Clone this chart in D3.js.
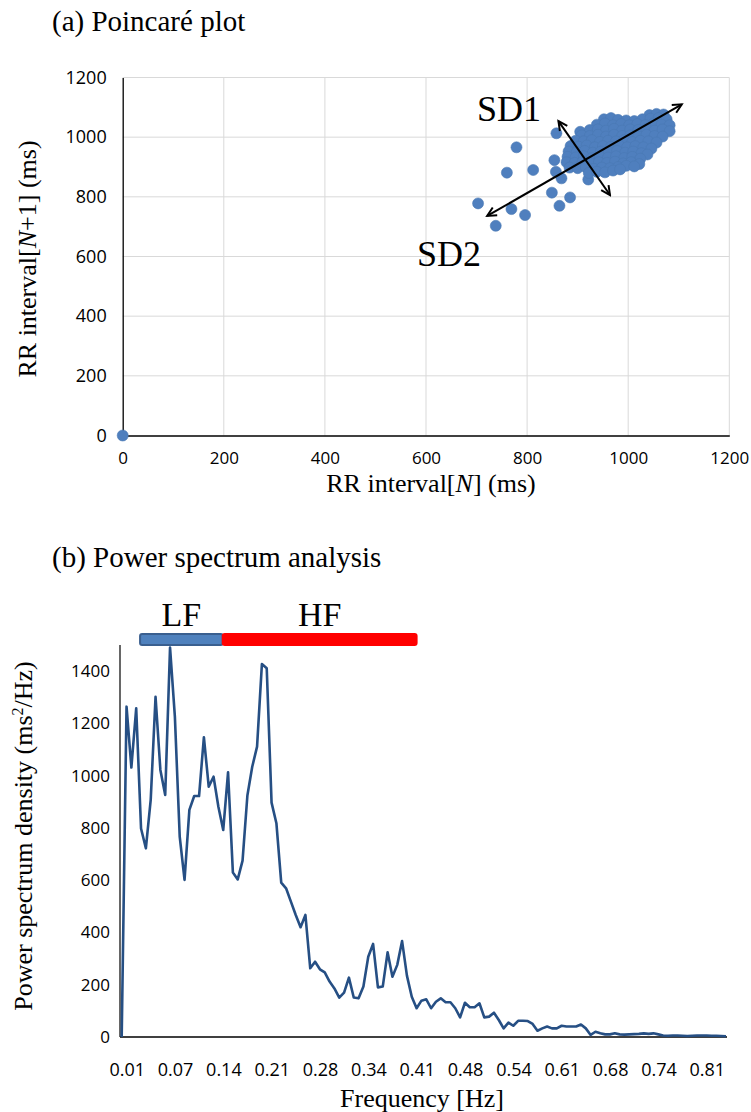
<!DOCTYPE html>
<html>
<head>
<meta charset="utf-8">
<script src="https://cdn.jsdelivr.net/npm/d3@7"></script>
<style>
  html, body { margin: 0; padding: 0; background: #fff; }
  svg { display: block; }
  .tick text { font-family: "Open Sans", sans-serif; fill: #000; }
  .ttl { font-family: "Liberation Serif", "Times New Roman", serif; fill: #000; }
</style>
</head>
<body>
<svg id="fig" width="751" height="1112"></svg>
<script>
// ---- (a) Poincaré plot data: [RR(N), RR(N+1)] in ms ----
const poincareOutliers = [
    [0, 0], [703, 778], [738, 703], [769, 759], [796, 739], [779, 966], [760, 881],
    [812, 890], [858, 1013], [849, 814], [864, 770], [885, 798], [854, 923],
    [857, 884], [868, 862], [905, 1018], [921, 858]
];
const poincareCluster = [
    [1042, 1074], [1056, 1078], [1070, 1076],
    [952, 1060], [966, 1064], [980, 1058], [996, 1056], [1012, 1054], [1028, 1060], [1044, 1062], [1060, 1064], [1076, 1060],
    [938, 1042], [954, 1046], [970, 1040], [986, 1044], [1002, 1040], [1018, 1044], [1034, 1040], [1050, 1046], [1066, 1042], [1082, 1040],
    [924, 1024], [940, 1026], [956, 1022], [972, 1028], [988, 1022], [1004, 1026], [1020, 1024], [1036, 1028], [1052, 1022], [1068, 1026], [1082, 1020],
    [908, 1006], [924, 1004], [940, 1008], [956, 1002], [972, 1008], [988, 1004], [1004, 1006], [1020, 1002], [1036, 1008], [1052, 1004], [1068, 1002],
    [896, 988], [912, 986], [928, 990], [944, 984], [960, 988], [976, 986], [992, 990], [1008, 984], [1024, 988], [1040, 986], [1056, 982],
    [886, 970], [902, 968], [918, 972], [934, 966], [950, 970], [966, 968], [982, 972], [998, 966], [1014, 970], [1030, 966], [1046, 962],
    [882, 952], [898, 950], [914, 954], [930, 948], [946, 952], [962, 950], [978, 954], [994, 948], [1010, 952], [1026, 946], [1038, 942],
    [880, 934], [896, 932], [912, 936], [928, 930], [944, 934], [960, 932], [976, 936], [992, 930], [1008, 934], [1024, 928],
    [878, 916], [894, 914], [910, 918], [926, 912], [942, 916], [958, 914], [974, 918], [990, 912], [1006, 916], [1022, 910],
    [884, 898], [900, 896], [916, 900], [932, 894], [948, 898], [964, 896], [980, 900], [996, 904], [1012, 902],
    [922, 880], [938, 884], [954, 882], [970, 888], [984, 892]
];
const rrTicks = [0, 200, 400, 600, 800, 1000, 1200];
// SD arrows and their labels, in ms
const sdArrows = [
    { name: 'SD1', from: [862, 1054], to: [964, 806], label: [701, 1054] },
    { name: 'SD2', from: [721, 736], to: [1106, 1110], label: [582, 568] }
];

// ---- (b) Power spectrum data (one value per frequency bin) ----
const psd = [
    0, 1264, 1031, 1258, 798, 722, 907, 1302, 1022, 926,
    1490, 1226, 767, 601, 869, 922, 922, 1147, 958, 996,
    881, 792, 1013, 629, 603, 675, 924, 1034, 1111, 1427,
    1411, 897, 818, 591, 569, 518, 467, 420, 467, 263,
    288, 259, 247, 212, 186, 151, 170, 227, 151, 148,
    193, 307, 356, 190, 193, 324, 231, 276, 367, 235,
    154, 110, 139, 144, 110, 135, 148, 133, 133, 110,
    75, 131, 114, 114, 129, 75, 78, 93, 65, 33,
    55, 43, 62, 62, 61, 50, 24, 33, 40, 33,
    33, 43, 40, 40, 40, 48, 33, 8, 20, 14,
    10, 10, 14, 10, 9, 10, 11, 12, 14, 12,
    14, 10, 6, 5, 6, 6, 5, 4, 5, 6,
    6, 6, 5, 5, 4, 3
];
const freqTickLabels = ['0.01', '0.07', '0.14', '0.21', '0.28', '0.34', '0.41',
                        '0.48', '0.54', '0.61', '0.68', '0.74', '0.81'];
const psdTicks = [0, 200, 400, 600, 800, 1000, 1200, 1400];
// LF / HF bands, in frequency-bin units
const bands = [
    { name: 'LF', from: 3.8, to: 20.9 },
    { name: 'HF', from: 20.9, to: 61 }
];

(function () {
    const svg = d3.select('#fig');
    svg.append('rect').attr('width', 751).attr('height', 1112).attr('fill', '#fff');

    const titleFont = (sel, size) => sel.attr('class', 'ttl').attr('font-size', size + 'px');
    const plain = d => String(d);

    // ================= (a) Poincaré plot =================
    const x1 = d3.scaleLinear().domain([0, 1200]).range([122.7, 729.3]);
    const y1 = d3.scaleLinear().domain([0, 1200]).range([435.5, 77.5]);

    svg.append('text').call(titleFont, 29).attr('x', 52).attr('y', 31).text('(a) Poincaré plot');

    const gA = svg.append('g');
    // grid
    gA.append('g').selectAll('line.vg').data(rrTicks.slice(1)).join('line')
        .attr('x1', d => x1(d)).attr('x2', d => x1(d))
        .attr('y1', y1(0)).attr('y2', y1(1200))
        .attr('stroke', '#d9d9d9').attr('stroke-width', 1);
    gA.append('g').selectAll('line.hg').data(rrTicks.slice(1)).join('line')
        .attr('x1', x1(0)).attr('x2', x1(1200))
        .attr('y1', d => y1(d)).attr('y2', d => y1(d))
        .attr('stroke', '#d9d9d9').attr('stroke-width', 1);

    // axes
    const axL1 = gA.append('g').attr('transform', `translate(${x1(0)},0)`)
        .call(d3.axisLeft(y1).tickValues(rrTicks).tickFormat(plain).tickSize(0).tickPadding(16));
    axL1.select('.domain').attr('stroke', '#000').attr('stroke-width', 1.3);
    axL1.selectAll('text').attr('font-size', '18px');
    const axB1 = gA.append('g').attr('transform', `translate(0,${y1(0)})`)
        .call(d3.axisBottom(x1).tickValues(rrTicks).tickFormat(plain).tickSize(0).tickPadding(16));
    axB1.select('.domain').attr('stroke', '#000').attr('stroke-width', 1.3);
    axB1.selectAll('text').attr('font-size', '17px');

    // points
    gA.append('g').selectAll('circle')
        .data(poincareOutliers.concat(poincareCluster)).join('circle')
        .attr('cx', d => x1(d[0])).attr('cy', d => y1(d[1]))
        .attr('r', 5.5)
        .attr('fill', '#4f7fbe')
        .attr('stroke', '#4a78b3').attr('stroke-width', 0.6);

    // arrow heads
    svg.append('defs').append('marker')
        .attr('id', 'ah').attr('viewBox', '0 0 12 12')
        .attr('refX', 10).attr('refY', 6)
        .attr('markerWidth', 12).attr('markerHeight', 12)
        .attr('markerUnits', 'userSpaceOnUse')
        .attr('orient', 'auto-start-reverse')
        .append('path').attr('d', 'M1,1.5 L10,6 L1,10.5')
        .attr('fill', 'none').attr('stroke', '#000').attr('stroke-width', 2);

    gA.append('g').selectAll('line.sd').data(sdArrows).join('line')
        .attr('x1', d => x1(d.from[0])).attr('y1', d => y1(d.from[1]))
        .attr('x2', d => x1(d.to[0])).attr('y2', d => y1(d.to[1]))
        .attr('stroke', '#000').attr('stroke-width', 2)
        .attr('marker-start', 'url(#ah)').attr('marker-end', 'url(#ah)');
    gA.append('g').selectAll('text').data(sdArrows).join('text')
        .call(titleFont, 36)
        .attr('x', d => x1(d.label[0])).attr('y', d => y1(d.label[1]))
        .text(d => d.name);

    // axis titles
    const xt1 = svg.append('text').call(titleFont, 26)
        .attr('x', 431).attr('y', 492).attr('text-anchor', 'middle');
    xt1.append('tspan').text('RR interval[');
    xt1.append('tspan').attr('font-style', 'italic').text('N');
    xt1.append('tspan').text('] (ms)');

    const yt1 = svg.append('text').call(titleFont, 26)
        .attr('transform', 'translate(36,259) rotate(-90)').attr('text-anchor', 'middle');
    yt1.append('tspan').text('RR interval[');
    yt1.append('tspan').attr('font-style', 'italic').text('N');
    yt1.append('tspan').text('+1] (ms)');

    // ================= (b) Power spectrum =================
    svg.append('text').call(titleFont, 29).attr('x', 52).attr('y', 567).text('(b) Power spectrum analysis');

    const x2 = d3.scaleLinear().domain([0, psd.length - 1]).range([121.7, 726]);
    const y2 = d3.scaleLinear().domain([0, 1500]).range([1037, 645]);
    const gB = svg.append('g');

    const axL2 = gB.append('g').attr('transform', 'translate(120,0)')
        .call(d3.axisLeft(y2).tickValues(psdTicks).tickFormat(plain).tickSize(0).tickPadding(10));
    axL2.select('.domain').attr('stroke', '#000').attr('stroke-width', 1.2).attr('d', `M0,${y2(1500)}V${y2(0)}`);
    axL2.selectAll('text').attr('font-size', '17px');

    const axB2 = gB.append('g').attr('transform', `translate(0,${y2(0)})`)
        .call(d3.axisBottom(x2).tickValues(d3.range(0, 121, 10)).tickSize(0).tickPadding(26)
            .tickFormat((d, i) => freqTickLabels[i]));
    axB2.select('.domain').attr('stroke', '#000').attr('stroke-width', 1.6).attr('d', `M120,0H${x2(psd.length - 1) + 1}`);
    axB2.selectAll('text').attr('font-size', '18px').attr('dx', 5);

    gB.append('path')
        .datum(psd)
        .attr('fill', 'none')
        .attr('stroke', '#264f84')
        .attr('stroke-width', 2.6)
        .attr('stroke-linejoin', 'round')
        .attr('d', d3.line().x((d, i) => x2(i)).y(d => y2(d)));

    // LF / HF bar
    const bandColor = { LF: '#4f81bd', HF: '#ff0000' };
    const bandStroke = { LF: '#3a5f8f', HF: '#ff0000' };
    gB.append('g').selectAll('rect').data(bands).join('rect')
        .attr('x', d => x2(d.from)).attr('width', d => x2(d.to) - x2(d.from))
        .attr('y', 634).attr('height', 11).attr('rx', 2)
        .attr('fill', d => bandColor[d.name])
        .attr('stroke', d => bandStroke[d.name]).attr('stroke-width', 2);
    gB.append('g').selectAll('text').data(bands).join('text')
        .call(titleFont, 34)
        .attr('x', d => (x2(d.from) + x2(d.to)) / 2).attr('y', 626)
        .attr('text-anchor', 'middle')
        .text(d => d.name);

    svg.append('text').call(titleFont, 26)
        .attr('x', 422).attr('y', 1107).attr('text-anchor', 'middle')
        .text('Frequency [Hz]');

    const yt2 = svg.append('text').call(titleFont, 26)
        .attr('transform', 'translate(32,836) rotate(-90)').attr('text-anchor', 'middle');
    yt2.append('tspan').text('Power spectrum density (ms');
    yt2.append('tspan').attr('font-size', '16px').attr('dy', -9).text('2');
    yt2.append('tspan').attr('dy', 9).text('/Hz)');
})();
</script>
</body>
</html>
